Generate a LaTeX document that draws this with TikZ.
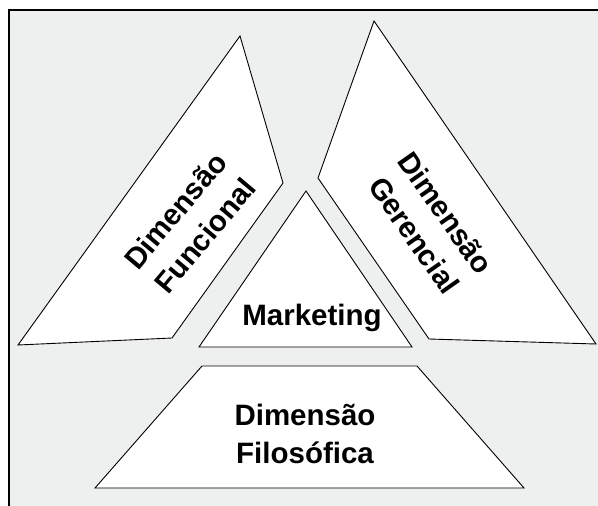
\documentclass[tikz,border=0pt]{standalone}
\usepackage{fontspec}
\setmainfont{Liberation Sans}
\definecolor{paneGray}{RGB}{238,240,239}

\begin{document}
\begin{tikzpicture}[x=1pt, y=-1pt,
        piece/.style={draw, fill=white, line width=0.9pt, line join=miter},
        dimtext/.style={font=\bfseries\fontsize{29.5}{38.5}\selectfont, align=center, inner sep=0pt}]
        \useasboundingbox (0,0) rectangle (598,506);
        \clip (0,0) rectangle (598,506);
        \draw[fill=paneGray, line width=1.2pt] (9,10) rectangle (640,540);

        % the four pieces
        \draw[piece] (240,36) -- (283,183) -- (172,338) -- (18,345) -- cycle;
        \draw[piece] (374,21) -- (318,178) -- (429,339) -- (596,344) -- cycle;
        \draw[piece] (306,191) -- (412,347) -- (199,347) -- cycle;
        \draw[piece] (202,366) -- (417,366) -- (524,488) -- (95,488) -- cycle;

        \node[dimtext, rotate=50] (funcional) at (190,223) {Dimensão\\Funcional};
        \node[dimtext, rotate=-55] (gerencial) at (430,224) {Dimensão\\Gerencial};
        \node[dimtext, anchor=base] (marketing) at (312,325) {Marketing};
        \node[dimtext] (filosofica) at (305,434) {Dimensão\\Filosófica};
    \end{tikzpicture}
\end{document}
